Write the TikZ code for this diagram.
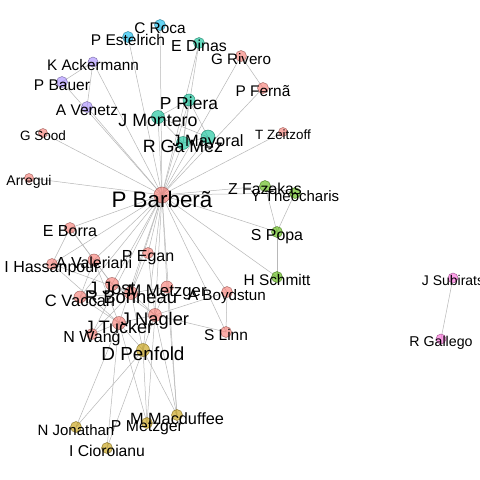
\documentclass[tikz,border=0pt]{standalone}
\usepackage{fontspec}
\setmainfont{Liberation Sans}
\pgfdeclarelayer{bg}
\pgfdeclarelayer{fg}
\pgfsetlayers{bg,main,fg}
\definecolor{cRed}{HTML}{F8766D}
\definecolor{cOli}{HTML}{C49A00}
\definecolor{cGrn}{HTML}{53B400}
\definecolor{cTea}{HTML}{00C094}
\definecolor{cBlu}{HTML}{00B6EB}
\definecolor{cPur}{HTML}{A58AFF}
\definecolor{cPnk}{HTML}{FB61D7}
\tikzset{
  vert/.style={circle, inner sep=0pt, fill opacity=0.6, draw opacity=0.7, line width=0.5pt},
  lbl/.style={anchor=base, inner sep=0pt, text=black},
  edge/.style={draw=black!28, line width=0.5pt}
}
% name, x, y, colour, radius, font size, label
\newcommand\vtx[7]{%
  \node[vert, fill=#4, draw=#4!55!black, minimum size=2*#5] (#1) at (#2,#3) {};
  \begin{pgfonlayer}{fg}
  \node[lbl, font=\fontsize{#6}{#6}\selectfont] (#1l) at (#2,#3+0.56*#6) {#7};
  \end{pgfonlayer}}
\newcommand\edg[2]{\draw[edge] (#1.center) -- (#2.center);}
\begin{document}
\begin{tikzpicture}[x=1pt,y=-1pt]
\useasboundingbox (0,0) rectangle (480,480);
\begin{pgfonlayer}{bg}
\fill[white] (0,0) rectangle (480,480);
\end{pgfonlayer}
\clip (0,0) rectangle (480,480);
% red group
\vtx{PB}{162}{195}{cRed}{8}{22.4}{P Barberã}
\vtx{GR}{241}{56}{cRed}{5.5}{15.2}{G Rivero}
\vtx{PF}{263}{88}{cRed}{5.5}{15.4}{P Fernã}
\vtx{GS}{43}{133}{cRed}{4.5}{13.5}{G Sood}
\vtx{TZ}{283}{132}{cRed}{4.5}{13.4}{T Zeitzoff}
\vtx{AR}{29}{178}{cRed}{4.5}{14}{Arregui}
\vtx{EB}{70}{228}{cRed}{5.5}{16}{E Borra}
\vtx{PE}{148}{253}{cRed}{5.5}{16}{P Egan}
\vtx{AV}{94}{260}{cRed}{6}{16}{A Valeriani}
\vtx{IH}{52}{264}{cRed}{5.5}{16}{I Hassanpour}
\vtx{JJ}{112}{284}{cRed}{6.5}{18}{J Jost}
\vtx{MM}{167}{287}{cRed}{6}{16.8}{M Metzger}
\vtx{AB}{227}{292}{cRed}{5.5}{15.2}{A Boydstun}
\vtx{RB}{131}{293}{cRed}{6.5}{18.4}{R Bonneau}
\vtx{CV}{80}{297}{cRed}{6}{16.5}{C Vaccari}
\vtx{JN}{155}{315}{cRed}{6.5}{18.3}{J Nagler}
\vtx{JT}{119}{323}{cRed}{6.5}{18}{J Tucker}
\vtx{SL}{226}{332}{cRed}{5.5}{15.5}{S Linn}
\vtx{NW}{92}{334}{cRed}{5.5}{16}{N Wang}
% blue
\vtx{CR}{160}{25}{cBlu}{5.5}{15.4}{C Roca}
\vtx{PES}{128}{37}{cBlu}{5.5}{15.5}{P Estelrich}
% teal
\vtx{ED}{199}{43}{cTea}{5.5}{15.9}{E Dinas}
\vtx{PR}{189}{100}{cTea}{6}{17.4}{P Riera}
\vtx{JM}{158}{117}{cTea}{6.5}{17.8}{J Montero}
\vtx{JMa}{208}{137}{cTea}{7}{16.4}{J Mayoral}
\vtx{RG}{183}{143}{cTea}{6.5}{17.8}{R Ga Mez}
% purple
\vtx{KA}{93}{62}{cPur}{5}{15.3}{K Ackermann}
\vtx{PBa}{62}{82}{cPur}{5.5}{15.5}{P Bauer}
\vtx{AVe}{87}{107}{cPur}{5.5}{15.5}{A Venetz}
% green
\vtx{ZF}{265}{186}{cGrn}{5.5}{15.8}{Z Fazekas}
\vtx{YT}{295}{193}{cGrn}{5.5}{15}{Y Theocharis}
\vtx{SP}{277}{232}{cGrn}{5.5}{15.9}{S Popa}
\vtx{HS}{277}{277}{cGrn}{5.5}{15.4}{H Schmitt}
% olive
\vtx{DP}{143}{350}{cOli}{6.5}{18.9}{D Penfold}
\vtx{MMa}{177}{415}{cOli}{5.5}{16.3}{M Macduffee}
\vtx{PM}{147}{423}{cOli}{5.5}{15.8}{P Metzger}
\vtx{NJ}{76}{427}{cOli}{5.5}{15}{N Jonathan}
\vtx{IC}{107}{448}{cOli}{5.5}{15.7}{I Cioroianu}
% pink
\vtx{JS}{453}{278}{cPnk}{5}{14}{J Subirats}
\vtx{RGa}{441}{339}{cPnk}{5}{14.2}{R Gallego}
\begin{pgfonlayer}{bg}
\foreach \t in {CR,PES,ED,GR,PF,TZ,KA,PBa,AVe,GS,AR,PR,JM,RG,JMa,ZF,YT,SP,HS,EB,AV,IH,PE,JJ,RB,MM,AB,SL,JN,JT,DP,CV,NW,MMa}{\edg{PB}{\t}}
\edg{KA}{PBa}\edg{KA}{AVe}
\edg{PR}{JM}\edg{PR}{RG}\edg{PR}{JMa}\edg{JM}{RG}\edg{JM}{JMa}\edg{RG}{JMa}\edg{ED}{RG}
\edg{GR}{PF}
\edg{ZF}{YT}\edg{ZF}{SP}\edg{YT}{SP}\edg{SP}{HS}
\edg{JS}{RGa}
\edg{EB}{IH}\edg{EB}{AV}\edg{EB}{JJ}\edg{IH}{JT}\edg{IH}{RB}
\edg{AV}{JJ}\edg{AV}{CV}\edg{AV}{JT}\edg{CV}{JT}\edg{CV}{RB}
\edg{NW}{JT}\edg{NW}{RB}\edg{JJ}{RB}\edg{JJ}{JN}\edg{RB}{JN}\edg{RB}{MM}
\edg{MM}{JN}\edg{AB}{JN}\edg{AB}{SL}\edg{SL}{JN}\edg{JT}{JN}
\edg{JT}{DP}\edg{JN}{DP}\edg{RB}{DP}\edg{PE}{JN}\edg{PE}{RB}
\edg{DP}{MMa}\edg{JN}{MMa}\edg{MM}{MMa}
\edg{DP}{PM}\edg{JT}{PM}\edg{JN}{PM}
\edg{DP}{NJ}\edg{JT}{NJ}\edg{DP}{IC}\edg{JT}{IC}
\end{pgfonlayer}
\end{tikzpicture}
\end{document}
